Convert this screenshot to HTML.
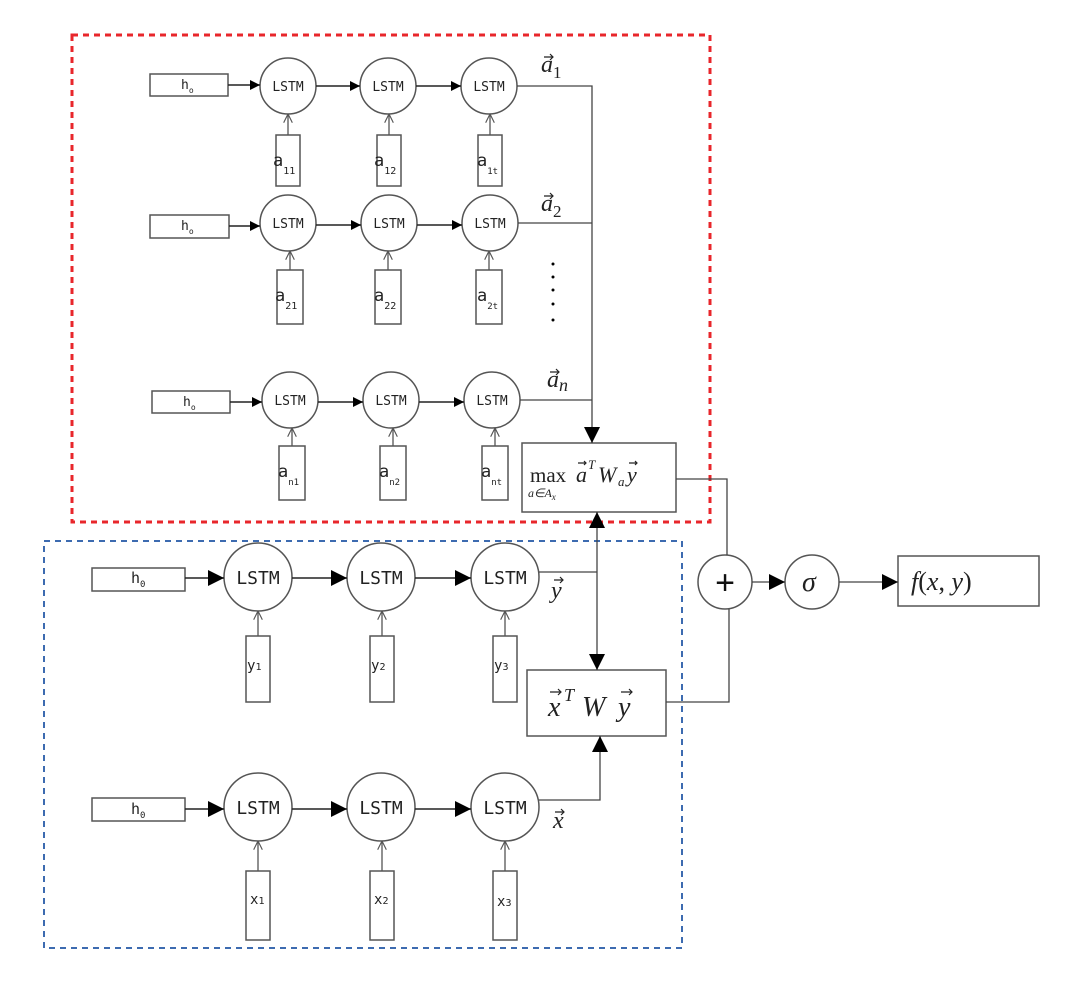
<!DOCTYPE html>
<html><head><meta charset="utf-8"><style>
html,body{margin:0;padding:0;background:#fff}
svg{display:block}
.m{font-family:"DejaVu Sans Mono","Liberation Mono",monospace;fill:#222}
.s{font-family:"Liberation Serif",serif;font-style:italic;fill:#222}
.s .u,.u{font-family:"Liberation Serif",serif;font-style:normal;fill:#222}
</style></head><body>
<svg width="1080" height="984" viewBox="0 0 1080 984" xmlns="http://www.w3.org/2000/svg">
<defs>
<marker id="ar" viewBox="0 0 10 10" refX="10" refY="5" markerWidth="10" markerHeight="10" markerUnits="userSpaceOnUse" orient="auto"><path d="M0,0L10,5L0,10z" fill="#000"/></marker>
<marker id="ab" viewBox="0 0 10 10" refX="10" refY="5" markerWidth="16" markerHeight="16" markerUnits="userSpaceOnUse" orient="auto"><path d="M0,0L10,5L0,10z" fill="#000"/></marker>
<marker id="op" viewBox="0 0 10 10" refX="10" refY="5" markerWidth="9" markerHeight="9" markerUnits="userSpaceOnUse" orient="auto"><path d="M0,0L10,5L0,10" fill="none" stroke="#555" stroke-width="1.3"/></marker>
</defs>
<rect x="72" y="35" width="638" height="487" fill="none" stroke="#e8262b" stroke-width="3" stroke-dasharray="6,5"/>
<rect x="44" y="541" width="638" height="407" fill="none" stroke="#3d6bb0" stroke-width="2" stroke-dasharray="6,5"/>
<g stroke="#555" stroke-width="1.5" fill="none">
<rect x="150" y="74" width="78" height="22"/>
<rect x="150" y="215" width="79" height="23"/>
<rect x="152" y="391" width="78" height="22"/>
<circle cx="288" cy="86" r="28"/><circle cx="388" cy="86" r="28"/><circle cx="489" cy="86" r="28"/>
<circle cx="288" cy="223" r="28"/><circle cx="389" cy="223" r="28"/><circle cx="490" cy="223" r="28"/>
<circle cx="290" cy="400" r="28"/><circle cx="391" cy="400" r="28"/><circle cx="492" cy="400" r="28"/>
<rect x="276" y="135" width="24" height="51"/><rect x="377" y="135" width="24" height="51"/><rect x="478" y="135" width="24" height="51"/>
<rect x="277" y="270" width="26" height="54"/><rect x="375" y="270" width="26" height="54"/><rect x="476" y="270" width="26" height="54"/>
<rect x="279" y="446" width="26" height="54"/><rect x="380" y="446" width="26" height="54"/><rect x="482" y="446" width="26" height="54"/>
<rect x="92" y="568" width="93" height="23"/>
<rect x="92" y="798" width="93" height="23"/>
<circle cx="258" cy="577" r="34"/><circle cx="381" cy="577" r="34"/><circle cx="505" cy="577" r="34"/>
<circle cx="258" cy="807" r="34"/><circle cx="381" cy="807" r="34"/><circle cx="505" cy="807" r="34"/>
<rect x="246" y="636" width="24" height="66"/><rect x="370" y="636" width="24" height="66"/><rect x="493" y="636" width="24" height="66"/>
<rect x="246" y="871" width="24" height="69"/><rect x="370" y="871" width="24" height="69"/><rect x="493" y="871" width="24" height="69"/>
<rect x="522" y="443" width="154" height="69"/>
<rect x="527" y="670" width="139" height="66"/>
<circle cx="725" cy="582" r="27"/><circle cx="812" cy="582" r="27"/>
<rect x="898" y="556" width="141" height="50"/>
</g>
<g stroke="#222" stroke-width="1.5" fill="none">
<line x1="228" y1="85" x2="260" y2="85" marker-end="url(#ar)"/><line x1="316" y1="86" x2="360" y2="86" marker-end="url(#ar)"/><line x1="416" y1="86" x2="461" y2="86" marker-end="url(#ar)"/>
<line x1="229" y1="226" x2="260" y2="226" marker-end="url(#ar)"/><line x1="316" y1="225" x2="361" y2="225" marker-end="url(#ar)"/><line x1="417" y1="225" x2="462" y2="225" marker-end="url(#ar)"/>
<line x1="230" y1="402" x2="262" y2="402" marker-end="url(#ar)"/><line x1="318" y1="402" x2="363" y2="402" marker-end="url(#ar)"/><line x1="419" y1="402" x2="464" y2="402" marker-end="url(#ar)"/>
<line x1="185" y1="578" x2="224" y2="578" marker-end="url(#ab)"/><line x1="292" y1="578" x2="347" y2="578" marker-end="url(#ab)"/><line x1="415" y1="578" x2="471" y2="578" marker-end="url(#ab)"/>
<line x1="185" y1="809" x2="224" y2="809" marker-end="url(#ab)"/><line x1="292" y1="809" x2="347" y2="809" marker-end="url(#ab)"/><line x1="415" y1="809" x2="471" y2="809" marker-end="url(#ab)"/>
</g>
<g stroke="#555" stroke-width="1.3">
<line x1="288" y1="135" x2="288" y2="114" marker-end="url(#op)"/><line x1="389" y1="135" x2="389" y2="114" marker-end="url(#op)"/><line x1="490" y1="135" x2="490" y2="114" marker-end="url(#op)"/>
<line x1="290" y1="270" x2="290" y2="251" marker-end="url(#op)"/><line x1="388" y1="270" x2="388" y2="251" marker-end="url(#op)"/><line x1="489" y1="270" x2="489" y2="251" marker-end="url(#op)"/>
<line x1="292" y1="446" x2="292" y2="428" marker-end="url(#op)"/><line x1="393" y1="446" x2="393" y2="428" marker-end="url(#op)"/><line x1="495" y1="446" x2="495" y2="428" marker-end="url(#op)"/>
<line x1="258" y1="636" x2="258" y2="611" marker-end="url(#op)"/><line x1="382" y1="636" x2="382" y2="611" marker-end="url(#op)"/><line x1="505" y1="636" x2="505" y2="611" marker-end="url(#op)"/>
<line x1="258" y1="871" x2="258" y2="841" marker-end="url(#op)"/><line x1="382" y1="871" x2="382" y2="841" marker-end="url(#op)"/><line x1="505" y1="871" x2="505" y2="841" marker-end="url(#op)"/>
</g>
<g stroke="#444" stroke-width="1.3" fill="none">
<polyline points="517,86 592,86 592,443" marker-end="url(#ab)"/>
<line x1="518" y1="223" x2="592" y2="223"/>
<line x1="520" y1="400" x2="592" y2="400"/>
<line x1="597" y1="572" x2="597" y2="512" marker-end="url(#ab)"/>
<line x1="597" y1="572" x2="597" y2="670" marker-end="url(#ab)"/>
<line x1="539" y1="572" x2="597" y2="572"/>
<polyline points="539,800 600,800 600,736" marker-end="url(#ab)"/>
<polyline points="676,479 727,479 727,555"/>
<polyline points="666,702 729,702 729,609"/>
<line x1="752" y1="582" x2="785" y2="582" marker-end="url(#ab)"/>
<line x1="839" y1="582" x2="898" y2="582" marker-end="url(#ab)"/>
</g>
<g fill="#000"><circle cx="553" cy="264" r="1.5"/><circle cx="553" cy="277" r="1.5"/><circle cx="553" cy="290" r="1.5"/><circle cx="553" cy="304" r="1.5"/><circle cx="553" cy="320" r="1.5"/></g>
<g class="m" font-size="13" text-anchor="middle">
<text x="288" y="91">LSTM</text><text x="388" y="91">LSTM</text><text x="489" y="91">LSTM</text>
<text x="288" y="228">LSTM</text><text x="389" y="228">LSTM</text><text x="490" y="228">LSTM</text>
<text x="290" y="405">LSTM</text><text x="391" y="405">LSTM</text><text x="492" y="405">LSTM</text>
</g>
<g class="m" font-size="18" text-anchor="middle">
<text x="258" y="584">LSTM</text><text x="381" y="584">LSTM</text><text x="505" y="584">LSTM</text>
<text x="258" y="814">LSTM</text><text x="381" y="814">LSTM</text><text x="505" y="814">LSTM</text>
</g>
<g class="m" font-size="13">
<text x="181" y="89">h<tspan font-size="8" dy="4">o</tspan></text>
<text x="181" y="230">h<tspan font-size="8" dy="4">o</tspan></text>
<text x="183" y="406">h<tspan font-size="8" dy="4">o</tspan></text>
<text x="131" y="583" font-size="15">h<tspan font-size="9" dy="4">0</tspan></text>
<text x="131" y="814" font-size="15">h<tspan font-size="9" dy="4">0</tspan></text>
<text x="273" y="166" font-size="17">a<tspan font-size="10" dy="8">11</tspan></text>
<text x="374" y="166" font-size="17">a<tspan font-size="10" dy="8">12</tspan></text>
<text x="477" y="166" font-size="17">a<tspan font-size="9" dy="8">1t</tspan></text>
<text x="275" y="301" font-size="17">a<tspan font-size="10" dy="8">21</tspan></text>
<text x="374" y="301" font-size="17">a<tspan font-size="10" dy="8">22</tspan></text>
<text x="477" y="301" font-size="17">a<tspan font-size="9" dy="8">2t</tspan></text>
<text x="278" y="477" font-size="17">a<tspan font-size="9" dy="8">n1</tspan></text>
<text x="379" y="477" font-size="17">a<tspan font-size="9" dy="8">n2</tspan></text>
<text x="481" y="477" font-size="17">a<tspan font-size="9" dy="8">nt</tspan></text>
<text x="247" y="670" font-size="14">y<tspan font-size="10">1</tspan></text>
<text x="371" y="670" font-size="14">y<tspan font-size="10">2</tspan></text>
<text x="494" y="670" font-size="14">y<tspan font-size="10">3</tspan></text>
<text x="250" y="904" font-size="14">x<tspan font-size="10">1</tspan></text>
<text x="374" y="904" font-size="14">x<tspan font-size="10">2</tspan></text>
<text x="497" y="906" font-size="14">x<tspan font-size="10">3</tspan></text>
</g>
<g class="s">
<text x="541" y="72" font-size="24">a</text><text x="553" y="78" class="u" font-size="17">1</text>
<text x="541" y="211" font-size="24">a</text><text x="553" y="217" class="u" font-size="17">2</text>
<text x="547" y="387" font-size="24">a</text><text x="559" y="391" font-size="18">n</text>
<text x="551" y="598" font-size="24">y</text>
<text x="553" y="828" font-size="24">x</text>
<text x="530" y="482" class="u" font-size="21">max</text>
<text x="576" y="482" font-size="22">a</text>
<text x="588" y="469" font-size="13">T</text>
<text x="598" y="482" font-size="22">W</text>
<text x="618" y="486" font-size="13">a</text>
<text x="627" y="482" font-size="22">y</text>
<text x="528" y="497" font-size="12">a∈A<tspan font-size="9" dy="3">x</tspan></text>
<text x="548" y="716" font-size="28">x</text>
<text x="564" y="701" font-size="18">T</text>
<text x="582" y="716" font-size="28">W</text>
<text x="618" y="716" font-size="28">y</text>
<text x="802" y="591" font-size="28">σ</text>
<text x="911" y="590" font-size="26">f<tspan class="u">(</tspan>x<tspan class="u">,</tspan> y<tspan class="u">)</tspan></text>
</g>
<g stroke="#222" stroke-width="1.2" fill="none">
<path d="M544,57h9m-3,-3l3,3l-3,3"/><path d="M544,196h9m-3,-3l3,3l-3,3"/><path d="M550,372h9m-3,-3l3,3l-3,3"/>
<path d="M554,580h9m-3,-3l3,3l-3,3"/><path d="M555,812h9m-3,-3l3,3l-3,3"/>
<path d="M578,463h8m-2,-2l2,2l-2,2"/><path d="M629,463h8m-2,-2l2,2l-2,2"/>
<path d="M550,692h11m-3,-3l3,3l-3,3"/><path d="M621,692h11m-3,-3l3,3l-3,3"/>
</g>
<text x="725" y="594" font-family="Liberation Sans,sans-serif" font-size="34" text-anchor="middle" fill="#111">+</text>
</svg>
</body></html>
